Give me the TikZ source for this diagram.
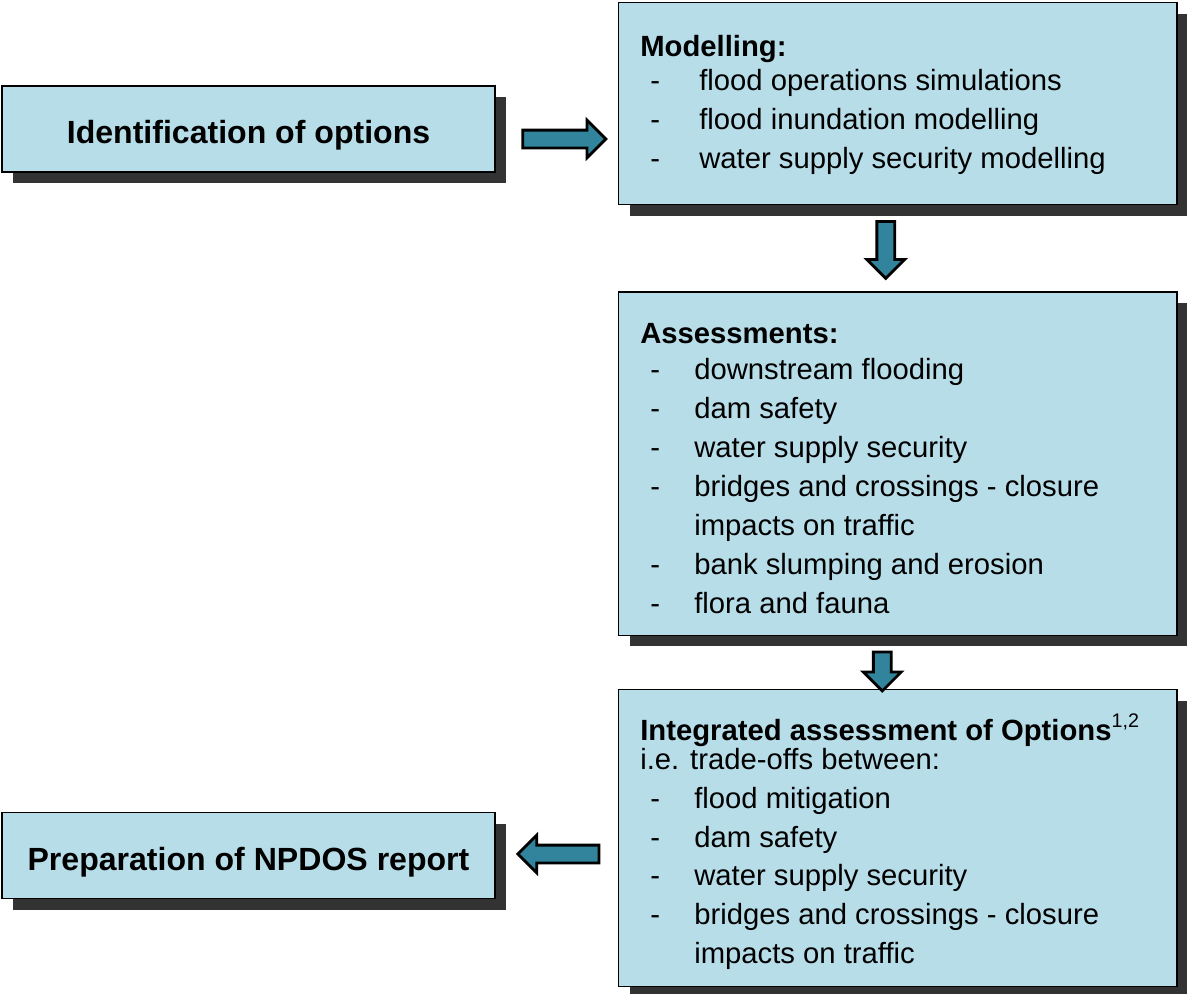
\documentclass[tikz,border=0pt]{standalone}
\usepackage{fontspec}
\setmainfont{Liberation Sans}
\usetikzlibrary{positioning,calc,shapes.arrows,shadows}

\definecolor{boxblue}{HTML}{B7DDE8}
\definecolor{arrowteal}{HTML}{31849B}
\definecolor{shadowgray}{HTML}{333333}

\newcommand{\itm}[2][1.35cm]{\makebox[#1][l]{\hspace{0.25cm}-}#2}

\tikzset{
  box/.style={draw=black, line width=1pt, fill=boxblue,
    drop shadow={shadow xshift=0.275cm, shadow yshift=-0.275cm, fill=shadowgray, opacity=1}},
  bigbox/.style={box, minimum width=13.95cm},
  sidebox/.style={box, minimum width=12.325cm, minimum height=2.15cm,
    text height=0.84cm, text depth=0.1cm,
    font=\bfseries\fontsize{22.8pt}{27pt}\selectfont},
  boxtext/.style={inner sep=0pt, anchor=north west, align=left,
    font=\fontsize{20.8pt}{27.7pt}\selectfont},
  fatarrow/.style={single arrow, draw=black, line width=2pt, fill=arrowteal,
    inner xsep=0pt, inner ysep=0.1875cm, single arrow head extend=0.25cm}
}

\begin{document}
\begin{tikzpicture}[x=0.025cm, y=-0.025cm]
        \useasboundingbox (0,0) rectangle (1187,993);

        % Boxes
        \node (model) [bigbox, anchor=north west, minimum height=5.05cm] at (618,2) {};
        \node (assess) [bigbox, below=2.15cm of model, minimum height=8.575cm] {};
        \node (integ) [bigbox, below=1.325cm of assess, minimum height=7.425cm] {};
        \node (ident) [sidebox] at (248.5,129) {Identification of options};
        \node (prep) [sidebox] at (248.5,855.5) {Preparation of NPDOS report};

        % Box texts
        \node (model_txt) [boxtext] at ([shift={(22,33)}]model.north west) {%
          \textbf{Modelling:}\\[-0.125cm]
          \itm[1.475cm]{flood operations simulations}\\
          \itm[1.475cm]{flood inundation modelling}\\
          \itm[1.475cm]{water supply security modelling}};
        \node (assess_txt) [boxtext] at ([shift={(22,32)}]assess.north west) {%
          \textbf{Assessments:}\\[-0.075cm]
          \itm{downstream flooding}\\
          \itm{dam safety}\\
          \itm{water supply security}\\
          \itm{bridges and crossings - closure}\\
          \makebox[1.35cm]{}impacts on traffic\\
          \itm{bank slumping and erosion}\\
          \itm{flora and fauna}};
        \node (integ_txt) [boxtext] at ([shift={(22,24)}]integ.north west) {%
          \textbf{Integrated assessment of Options}\raisebox{0.45em}{\fontsize{14pt}{14pt}\selectfont 1,2}\\[-0.25cm]
          i.e. trade-offs between:\\
          \itm{flood mitigation}\\
          \itm{dam safety}\\
          \itm{water supply security}\\
          \itm{bridges and crossings - closure}\\
          \makebox[1.35cm]{}impacts on traffic};

        % Arrows
        \node (ident_model) [fatarrow, minimum height=2.075cm]
          at ($(ident.east)!0.5!(ident.east -| model.west) + (3,10)$) {};
        \node (model_assess) [fatarrow, rotate=-90, minimum height=1.425cm]
          at ($(model.south)!0.5!(assess.north) + (-12,-3)$) {};
        \node (assess_integ) [fatarrow, rotate=-90, minimum height=0.975cm]
          at ($(assess.south)!0.5!(integ.north) + (-15.5,4.5)$) {};
        \node (integ_prep) [fatarrow, rotate=180, minimum height=2.025cm]
          at ($(prep.east)!0.5!(prep.east -| integ.west) + (6,-1.5)$) {};

    \end{tikzpicture}
\end{document}
